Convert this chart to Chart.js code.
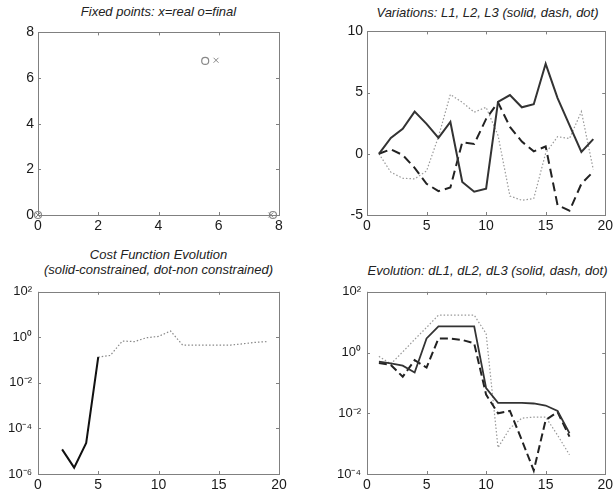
<!DOCTYPE html>
<html lang="en">
<head>
<meta charset="UTF-8">
<title>Fixed points and evolution</title>
<script src="https://cdn.jsdelivr.net/npm/chart.js"></script>
<style>
    body { margin: 0; background: #fff; width: 616px; height: 498px; position: relative; overflow: hidden; }
    .cv { position: absolute; }
    .ttl { position: absolute; font-family: 'Liberation Sans', Arial, sans-serif; font-style: italic;
           font-size: 13px; line-height: 15px; color: #222; text-align: center; white-space: nowrap; }
</style>
</head>
<body>
<div class="ttl" style="left:38px;width:241px;top:4px">Fixed points: x=real o=final</div>
<div class="ttl" style="left:367px;width:241px;top:5px">Variations: L1, L2, L3 (solid, dash, dot)</div>
<div class="ttl" style="left:38px;width:241px;top:247px">Cost Function Evolution<br>(solid-constrained, dot-non constrained)</div>
<div class="ttl" style="left:367px;width:241px;top:263px">Evolution: dL1, dL2, dL3 (solid, dash, dot)</div>

<div class="cv" style="left:0;top:20px;width:300px;height:218px"><canvas id="c1"></canvas></div>
<div class="cv" style="left:310px;top:19px;width:306px;height:219px"><canvas id="c2"></canvas></div>
<div class="cv" style="left:0;top:278px;width:300px;height:220px"><canvas id="c3"></canvas></div>
<div class="cv" style="left:310px;top:278px;width:306px;height:220px"><canvas id="c4"></canvas></div>
<script>
// fixed points
var realX = [0, 7.73, 5.91];
var realY = [0, 0, 6.78];
var finalX = [0, 7.8, 5.55];
var finalY = [0, 0, 6.75];
var fixTicks = [0, 2, 4, 6, 8];

// variations
var iter = [1, 2, 3, 4, 5, 6, 7, 8, 9, 10, 11, 12, 13, 14, 15, 16, 17, 18, 19];
var L1 = [0, 1.3, 2.05, 3.45, 2.45, 1.3, 2.6, -2.3, -3.1, -2.85, 4.25, 4.8, 3.8, 4.05, 7.35, 4.55, 2.35, 0.15, 1.2];
var L2 = [0, 0.37, -0.1, -1.15, -2.45, -3.05, -2.75, 0.95, 0.8, 2.85, 4.2, 2.2, 1.0, 0.2, 0.6, -4.2, -4.65, -2.45, -1.45];
var L3 = [0, -1.5, -2.0, -2.05, -1.4, 1.4, 4.85, 4.2, 3.4, 3.8, 1.5, -3.45, -3.8, -3.65, 0.05, 1.4, 1.25, 3.45, -1.3];
var varTicks = [-5, 0, 5, 10];
var iterTicks = [0, 5, 10, 15, 20];

// cost function
var costIterC = [2, 3, 4, 5];
var costC = [1.2e-5, 1.9e-6, 2.3e-5, 0.137];
var costIterN = [5, 6, 7, 8, 9, 10, 11, 12, 13, 14, 15, 16, 17, 18, 19];
var costN = [0.137, 0.16, 0.69, 0.65, 0.96, 1.1, 1.9, 0.46, 0.46, 0.46, 0.46, 0.46, 0.52, 0.6, 0.65];
var costTicks = [1e-6, 1e-4, 1e-2, 1, 100];

// evolution of dL
var iter17 = [1, 2, 3, 4, 5, 6, 7, 8, 9, 10, 11, 12, 13, 14, 15, 16, 17];
var dL1 = [0.5, 0.44, 0.37, 0.22, 2.9, 7.3, 7.3, 7.3, 7.3, 0.067, 0.022, 0.022, 0.022, 0.021, 0.018, 0.012, 0.0022];
var dL2 = [0.45, 0.39, 0.16, 0.56, 0.32, 2.9, 2.9, 2.6, 2.0, 0.041, 0.01, 0.012, 0.0013, 1.3e-4, 0.006, 0.011, 0.0017];
var dL3 = [0.75, 0.42, 1.05, 2.7, 6.7, 17, 17, 17, 17, 4.2, 7.4e-4, 0.0032, 0.0069, 0.0075, 0.0075, 0.0019, 4.3e-4];
var dLTicks = [1e-4, 1e-2, 1, 100];

Chart.defaults.font.family = "'Liberation Sans', Arial, sans-serif";
Chart.defaults.font.size = 14;
Chart.defaults.color = '#1a1a1a';
Chart.defaults.animation = false;

function pts(xs, ys) {
    return xs.map(function (x, i) { return { x: x, y: ys[i] }; });
}

var sup = { '-': '\u207B', '0': '\u2070', '1': '\u00B9', '2': '\u00B2', '3': '\u00B3', '4': '\u2074', '5': '\u2075', '6': '\u2076' };
function logLabel(v) {
    var e = Math.round(Math.log10(v));
    return '10' + String(e).split('').map(function (c) { return sup[c]; }).join('');
}

// box around plot area with inward ticks on all four sides
var boxPlugin = {
    id: 'box',
    afterDraw: function (chart) {
        var a = chart.chartArea, ctx = chart.ctx;
        var xs = chart.scales.x, ys = chart.scales.y;
        ctx.save();
        ctx.strokeStyle = '#808080';
        ctx.lineWidth = 1;
        ctx.strokeRect(Math.round(a.left) + 0.5, Math.round(a.top) + 0.5, Math.round(a.right - a.left), Math.round(a.bottom - a.top));
        ctx.beginPath();
        xs.ticks.forEach(function (t) {
            var px = Math.round(xs.getPixelForValue(t.value)) + 0.5;
            ctx.moveTo(px, a.bottom); ctx.lineTo(px, a.bottom - 3);
            ctx.moveTo(px, a.top); ctx.lineTo(px, a.top + 3);
        });
        ys.ticks.forEach(function (t) {
            var py = Math.round(ys.getPixelForValue(t.value)) + 0.5;
            ctx.moveTo(a.left, py); ctx.lineTo(a.left + 3, py);
            ctx.moveTo(a.right, py); ctx.lineTo(a.right - 3, py);
        });
        ctx.stroke();
        ctx.restore();
    }
};

function axes(xMin, xMax, xTicks, yType, yMin, yMax, yTicks, yWidth, xHeight) {
    var isLog = yType === 'logarithmic';
    return {
        x: {
            type: 'linear', min: xMin, max: xMax,
            grid: { display: false, drawTicks: false }, border: { display: false },
            afterBuildTicks: function (s) { s.ticks = xTicks.map(function (v) { return { value: v }; }); },
            afterFit: function (s) { s.height = xHeight; },
            ticks: { padding: 3, maxRotation: 0, autoSkip: false }
        },
        y: {
            type: yType, min: yMin, max: yMax,
            grid: { display: false, drawTicks: false }, border: { display: false },
            afterBuildTicks: function (s) { s.ticks = yTicks.map(function (v) { return { value: v }; }); },
            afterFit: function (s) { s.width = yWidth; },
            ticks: {
                padding: isLog ? 6 : 4, autoSkip: false,
                font: { size: isLog ? 13 : 14 },
                callback: isLog ? function (v) { return logLabel(v); } : function (v) { return v; }
            }
        }
    };
}

function line(data, color, width, dash) {
    return { data: data, borderColor: color, borderWidth: width, borderDash: dash, pointRadius: 0, fill: false, tension: 0 };
}

var baseOpts = function (pad, scales) {
    return {
        responsive: true, maintainAspectRatio: false,
        layout: { padding: pad },
        plugins: { legend: { display: false }, tooltip: { enabled: false } },
        scales: scales
    };
};

new Chart(document.getElementById('c1'), {
    type: 'scatter',
    data: {
        datasets: [
            { data: pts(realX, realY), pointStyle: 'crossRot', pointRadius: 3.5, borderColor: '#888', borderWidth: 1 },
            { data: pts(finalX, finalY), pointStyle: 'circle', pointRadius: 3.5, borderColor: '#888', backgroundColor: 'rgba(0,0,0,0)', borderWidth: 1.2 }
        ]
    },
    options: Object.assign(baseOpts({ top: 8, right: 21, left: 0, bottom: 0 },
        axes(0, 8, fixTicks, 'linear', 0, 8, fixTicks, 38, 23)), { clip: false }),
    plugins: [boxPlugin]
});

new Chart(document.getElementById('c2'), {
    type: 'line',
    data: {
        datasets: [
            line(pts(iter, L1), '#333', 2, []),
            line(pts(iter, L2), '#222', 2, [9, 5]),
            line(pts(iter, L3), '#999', 1.2, [1.5, 2])
        ]
    },
    options: baseOpts({ top: 8, right: 8, left: 0, bottom: 0 },
        axes(0, 20, iterTicks, 'linear', -5, 10, varTicks, 57, 23)),
    plugins: [boxPlugin]
});

new Chart(document.getElementById('c3'), {
    type: 'line',
    data: {
        datasets: [
            line(pts(costIterC, costC), '#111', 2, []),
            line(pts(costIterN, costN), '#888', 1.2, [1.5, 2])
        ]
    },
    options: baseOpts({ top: 8, right: 21, left: 0, bottom: 0 },
        axes(0, 20, iterTicks, 'logarithmic', 1e-6, 100, costTicks, 38, 24)),
    plugins: [boxPlugin]
});

new Chart(document.getElementById('c4'), {
    type: 'line',
    data: {
        datasets: [
            line(pts(iter17, dL1), '#333', 1.8, []),
            line(pts(iter17, dL2), '#222', 2, [8, 4]),
            line(pts(iter17, dL3), '#999', 1.2, [1.5, 2])
        ]
    },
    options: baseOpts({ top: 8, right: 8, left: 0, bottom: 0 },
        axes(0, 20, iterTicks, 'logarithmic', 1e-4, 100, dLTicks, 57, 24)),
    plugins: [boxPlugin]
});
</script>
</body>
</html>
